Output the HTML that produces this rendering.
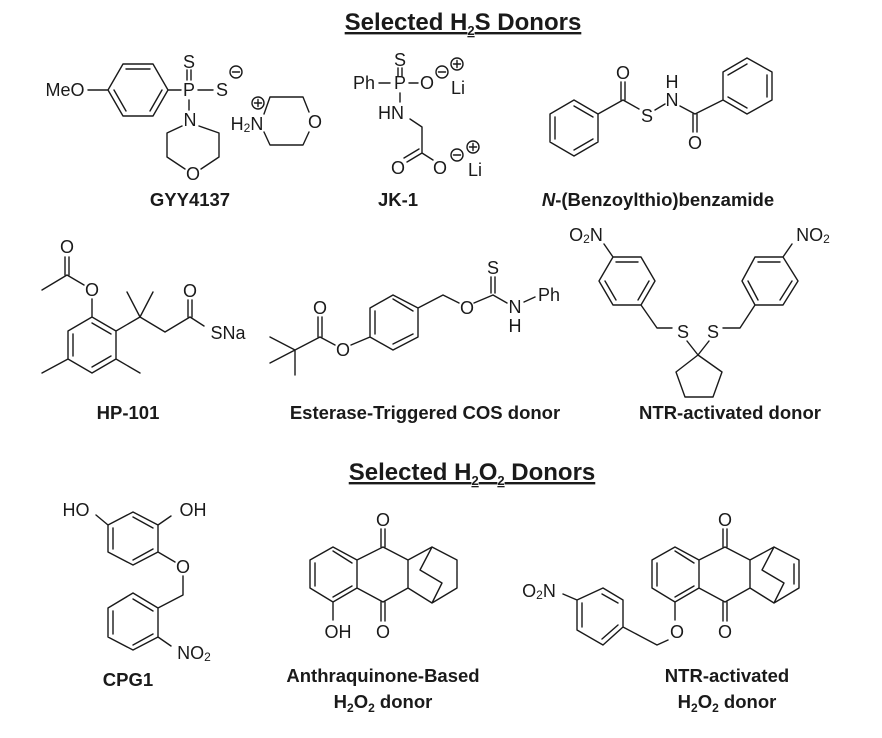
<!DOCTYPE html>
<html><head><meta charset="utf-8"><style>
html,body{margin:0;padding:0;background:#fff;}
svg{display:block;}
.b{stroke:#1a1a1a;stroke-width:1.4;fill:none;stroke-linecap:round;stroke-linejoin:round;}
.a{font-family:"Liberation Sans",sans-serif;font-size:18px;fill:#1a1a1a;text-anchor:middle;dominant-baseline:central;}
.l{font-family:"Liberation Sans",sans-serif;font-size:18.5px;font-weight:bold;fill:#1a1a1a;text-anchor:middle;}
.t{font-family:"Liberation Sans",sans-serif;font-size:24px;font-weight:bold;fill:#1a1a1a;text-anchor:middle;text-decoration:underline;}
.s{font-size:12px;}
.t .s{font-size:13px;}
</style></head><body>
<svg width="882" height="738" viewBox="0 0 882 738" xmlns="http://www.w3.org/2000/svg">
<defs>
<g id="minus"><circle cx="0" cy="0" r="6" class="b"/><line x1="-3.5" y1="0" x2="3.5" y2="0" class="b"/></g>
<g id="plus"><circle cx="0" cy="0" r="6" class="b"/><line x1="-3.5" y1="0" x2="3.5" y2="0" class="b"/><line x1="0" y1="-3.5" x2="0" y2="3.5" class="b"/></g>
</defs>

<!-- Titles -->
<text class="t" x="463" y="30">Selected H<tspan class="s" dy="5">2</tspan><tspan dy="-5">S Donors</tspan></text>
<text class="t" x="472" y="480">Selected H<tspan class="s" dy="5">2</tspan><tspan dy="-5">O</tspan><tspan class="s" dy="5">2</tspan><tspan dy="-5"> Donors</tspan></text>

<!-- GYY4137 -->
<text class="a" x="65" y="90">MeO</text>
<path class="b" d="M88 90L108 90M108 90L123 64L153 64L168 90L153 116L123 116Z M126 69L150 69 M162 90L150 111 M126 111L114 90 M168 90L181 90"/>
<text class="a" x="189" y="90">P</text>
<text class="a" x="189" y="62">S</text>
<path class="b" d="M187 70L187 80M191 70L191 80 M198 90L213 90 M189 100L189 110"/>
<text class="a" x="222" y="90">S</text>
<use href="#minus" x="236" y="72"/>
<text class="a" x="190" y="120">N</text>
<path class="b" d="M182 126L167 133L167 157L185 169 M201 169L219 157L219 133L199 126"/>
<text class="a" x="193" y="174">O</text>
<text class="a" x="247" y="124">H<tspan class="s" dy="4">2</tspan><tspan dy="-4">N</tspan></text>
<use href="#plus" x="258" y="103"/>
<path class="b" d="M264 114L270 97L303 97L309 112 M309 132L303 145L270 145L264 132"/>
<text class="a" x="315" y="122">O</text>
<text class="l" x="190" y="206">GYY4137</text>

<!-- JK-1 -->
<text class="a" x="364" y="83">Ph</text>
<path class="b" d="M379 83L390 83M409 83L418 83M398 68L398 76M402 68L402 76M400 93L400 102"/>
<text class="a" x="400" y="83">P</text>
<text class="a" x="400" y="60">S</text>
<text class="a" x="427" y="83">O</text>
<use href="#minus" x="442" y="72"/>
<use href="#plus" x="457" y="64"/>
<text class="a" x="458" y="88">Li</text>
<text class="a" x="391" y="113">HN</text>
<path class="b" d="M410 119L422 127L422 153L407 162M419 149L404 158M422 153L433 160"/>
<text class="a" x="398" y="168">O</text>
<text class="a" x="440" y="168">O</text>
<use href="#minus" x="457" y="155"/>
<use href="#plus" x="473" y="147"/>
<text class="a" x="475" y="170">Li</text>
<text class="l" x="398" y="206">JK-1</text>

<!-- N-(Benzoylthio)benzamide -->
<path class="b" d="M574 100L598 114L598 142L574 156L550 142L550 114Z M574 106L593 117 M593 139L574 150 M555 117L555 139 M598 114L623 100 M621 82L621 100M625 82L625 100 M623 100L639 109 M655 110L665 104 M680 106L695 114 M693 114L693 132M697 114L697 132 M695 114L723 100 M723 100L723 72L747 58L772 72L772 100L747 114Z M767 75L767 97 M728 75L747 64 M747 108L728 97"/>
<text class="a" x="623" y="73">O</text>
<text class="a" x="647" y="116">S</text>
<text class="a" x="672" y="100">N</text>
<text class="a" x="672" y="82">H</text>
<text class="a" x="695" y="143">O</text>
<text class="l" x="658" y="206"><tspan font-style="italic">N</tspan>-(Benzoylthio)benzamide</text>

<!-- HP-101 -->
<text class="a" x="67" y="247">O</text>
<path class="b" d="M65 257L65 275M69 257L69 275 M42 290L67 275L84 285 M92 299L92 317 M92 317L116 331L116 359L92 373L68 359L68 331Z M92 323L111 334 M111 356L92 367 M73 334L73 356 M68 359L42 373 M116 359L140 373 M116 331L140 317 M140 317L127 292 M140 317L153 292 M140 317L165 332L190 317 M188 300L188 317M192 300L192 317 M190 317L204 326"/>
<text class="a" x="92" y="290">O</text>
<text class="a" x="190" y="291">O</text>
<text class="a" x="228" y="333">SNa</text>
<text class="l" x="128" y="419">HP-101</text>

<!-- Esterase COS donor -->
<path class="b" d="M270 337L295 350L270 363 M295 350L295 375 M295 350L320 337 M318 317L318 337M322 317L322 337 M320 337L335 345 M351 345L370 337 M370 337L370 308L393 295L418 308L418 337L393 350Z M375 311L375 334 M393 299L413 311 M413 334L393 344 M418 308L443 295L459 303 M474 303L493 295 M491 277L491 293M495 277L495 293 M493 295L507 303 M524 302L535 297"/>
<text class="a" x="320" y="308">O</text>
<text class="a" x="343" y="350">O</text>
<text class="a" x="467" y="308">O</text>
<text class="a" x="493" y="268">S</text>
<text class="a" x="515" y="307">N</text>
<text class="a" x="515" y="326">H</text>
<text class="a" x="549" y="295">Ph</text>
<text class="l" x="425" y="419">Esterase-Triggered COS donor</text>

<!-- NTR-activated donor -->
<text class="a" x="586" y="235">O<tspan class="s" dy="4">2</tspan><tspan dy="-4">N</tspan></text>
<path class="b" d="M604 244L613 257 M613 257L641 257L655 281L641 305L613 305L599 281Z M616 262L638 262 M649 281L638 300 M616 300L605 281 M641 305L657 328L672 328 M687 341L698 355L709 341 M698 355L722 372L713 397L685 397L676 372Z M723 328L740 328L755 305 M755 305L742 281L755 257L783 257L798 281L783 305Z M758 262L780 262 M748 281L758 300 M792 281L780 300 M783 257L792 244"/>
<text class="a" x="683" y="332">S</text>
<text class="a" x="713" y="332">S</text>
<text class="a" x="813" y="235">NO<tspan class="s" dy="4">2</tspan></text>
<text class="l" x="730" y="419">NTR-activated donor</text>

<!-- CPG1 -->
<text class="a" x="76" y="510">HO</text>
<text class="a" x="193" y="510">OH</text>
<path class="b" d="M96 515L108 525 M133 512L158 525L158 552L133 565L108 552L108 525Z M133 517L153 528 M153 549L133 560 M113 528L113 549 M158 525L171 516 M158 552L175 562 M183 576L183 595L158 608 M133 593L158 608L158 637L133 650L108 637L108 608Z M133 599L153 611 M153 634L133 645 M113 611L113 634 M158 637L171 646"/>
<text class="a" x="183" y="567">O</text>
<text class="a" x="194" y="653">NO<tspan class="s" dy="4">2</tspan></text>
<text class="l" x="128" y="686">CPG1</text>

<!-- Anthraquinone-based -->
<path class="b" d="M310 560L333 547L357 560L357 588L333 602L310 588Z M333 551L352 563 M352 586L333 597 M315 563L315 586 M357 560L383 547L408 560L408 588L383 602L357 588 M381 529L381 547M385 529L385 547 M381 602L381 621M385 602L385 621 M333 602L333 620 M408 560L432 547L457 560L457 588L432 603L408 588 M432 547L420 570L442 583L432 603"/>
<text class="a" x="383" y="520">O</text>
<text class="a" x="383" y="632">O</text>
<text class="a" x="338" y="632">OH</text>
<text class="l" x="383" y="682">Anthraquinone-Based</text>
<text class="l" x="383" y="708">H<tspan class="s" dy="4">2</tspan><tspan dy="-4">O</tspan><tspan class="s" dy="4">2</tspan><tspan dy="-4"> donor</tspan></text>

<!-- NTR-activated H2O2 donor -->
<g transform="translate(342,0)">
<path class="b" d="M310 560L333 547L357 560L357 588L333 602L310 588Z M333 551L352 563 M352 586L333 597 M315 563L315 586 M357 560L383 547L408 560L408 588L383 602L357 588 M381 529L381 547M385 529L385 547 M381 602L381 621M385 602L385 621 M333 602L333 620 M408 560L432 547L457 560L457 588L432 603L408 588 M432 547L420 570L442 583L432 603 M452 564L452 584"/>
<text class="a" x="383" y="520">O</text>
<text class="a" x="383" y="632">O</text>
<text class="a" x="335" y="632">O</text>
</g>
<path class="b" d="M668 640L657 645L623 627 M603 588L623 600L623 627L603 645L577 630L577 600Z M602 594L618 603 M618 625L602 639 M582 603L582 627 M577 600L563 594"/>
<text class="a" x="539" y="591">O<tspan class="s" dy="4">2</tspan><tspan dy="-4">N</tspan></text>
<text class="l" x="727" y="682">NTR-activated</text>
<text class="l" x="727" y="708">H<tspan class="s" dy="4">2</tspan><tspan dy="-4">O</tspan><tspan class="s" dy="4">2</tspan><tspan dy="-4"> donor</tspan></text>
</svg>
</body></html>
